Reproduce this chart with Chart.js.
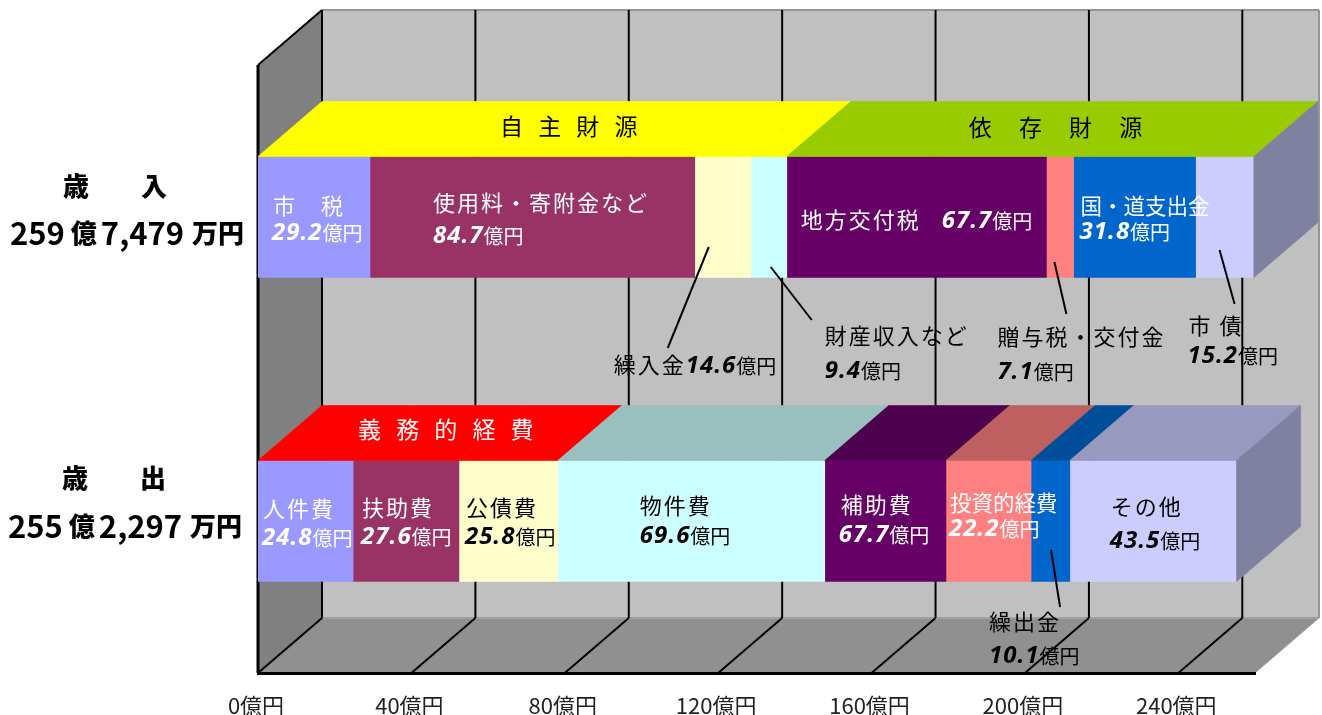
<!DOCTYPE html>
<html lang="ja">
<head>
<meta charset="utf-8">
<title>歳入歳出</title>
<script src="https://cdn.jsdelivr.net/npm/chart.js@4"></script>
<style>
  html, body { margin: 0; padding: 0; background: #fff; overflow: hidden; }
  canvas { display: block; }
</style>
</head>
<body>
<canvas class="budget-chart" width="1322" height="715"></canvas>
<script>
const categories = ["歳入", "歳出"];
const totals = [
  ["259", "7,479"],
  ["255", "2,297"],
];
const xTickValues = [0, 40, 80, 120, 160, 200, 240];

const revenueNames = ["市　税", "使用料・寄附金など", "繰入金", "財産収入など", "地方交付税", "贈与税・交付金", "国・道支出金", "市 債"];
const revenueValues = [29.2, 84.7, 14.6, 9.4, 67.7, 7.1, 31.8, 15.2];

const expenseNames = ["人件費", "扶助費", "公債費", "物件費", "補助費", "投資的経費", "繰出金", "その他"];
const expenseValues = [24.8, 27.6, 25.8, 69.6, 31.6, 22.2, 10.1, 43.5];
// the source prints 67.7 on the 補助費 bar although the bar itself is about 31.6 wide
const expensePrinted = ["24.8", "27.6", "25.8", "69.6", "67.7", "22.2", "10.1", "43.5"];

const revenueGroups = ["自 主 財 源", "依 存 財 源"];
const expenseGroup = "義 務 的 経 費";

const segmentColors = ["#9999ff", "#993366", "#ffffcc", "#ccffff", "#660066", "#ff8080", "#0066cc", "#ccccff"];
const topColors = [
  ["#ffff00", "#ffff00", "#ffff00", "#ffff00", "#99cc00", "#99cc00", "#99cc00", "#99cc00"],
  ["#ff0000", "#ff0000", "#ff0000", "#99bfbf", "#4d004d", "#bf6060", "#004d99", "#9999bf"],
];

const DEPTH_X = 64;
const DEPTH_Y = 55;
const JP = '"Noto Sans CJK JP"';
const NUM = '"Open Sans"';

// label offsets are measured from the start of the segment and the middle of its bar
const segmentLabels = [
  { row: 0, seg: 0, dx: 15, dy: -11, vdx: 14, vdy: 16, color: "#fff" },
  { row: 0, seg: 1, dx: 63, dy: -14, vdx: 63, vdy: 19, color: "#fff" },
  { row: 0, seg: 2, dx: -81, dy: 148, vdx: -9, vdy: 149, color: "#000" },
  { row: 0, seg: 3, dx: 74, dy: 119, vdx: 74, vdy: 154, color: "#000" },
  { row: 0, seg: 4, dx: 14, dy: 3, vdx: 155, vdy: 4, color: "#fff" },
  { row: 0, seg: 5, dx: -49, dy: 120, vdx: -49, vdy: 155, color: "#000" },
  { row: 0, seg: 6, dx: 7, dy: -11, vdx: 6, vdy: 15, color: "#fff" },
  { row: 0, seg: 7, dx: -7, dy: 109, vdx: -8, vdy: 139, color: "#000" },
  { row: 1, seg: 0, dx: 5, dy: -12, vdx: 4, vdy: 17, color: "#fff" },
  { row: 1, seg: 1, dx: 9, dy: -13, vdx: 8, vdy: 16, color: "#fff" },
  { row: 1, seg: 2, dx: 7, dy: -13, vdx: 6, vdy: 16, color: "#000" },
  { row: 1, seg: 3, dx: 82, dy: -15, vdx: 82, vdy: 15, color: "#000" },
  { row: 1, seg: 4, dx: 16, dy: -16, vdx: 14, vdy: 14, color: "#fff" },
  { row: 1, seg: 5, dx: 4, dy: -18, vdx: 3, vdy: 8, color: "#fff" },
  { row: 1, seg: 6, dx: -42, dy: 101, vdx: -42, vdy: 135, color: "#000" },
  { row: 1, seg: 7, dx: 41, dy: -14, vdx: 40, vdy: 20, color: "#000" },
];
const leaders = [
  { row: 0, seg: 2, from: [14, 30], to: [-27, 131] },
  { row: 0, seg: 3, from: [20, 50], to: [61, 103] },
  { row: 0, seg: 5, from: [8, 45], to: [20, 97] },
  { row: 0, seg: 7, from: [24, 33], to: [39, 87] },
  { row: 1, seg: 6, from: [20, 29], to: [29, 86] },
];

function poly(ctx, points, fill) {
  ctx.beginPath();
  points.forEach(([x, y], i) => (i ? ctx.lineTo(x, y) : ctx.moveTo(x, y)));
  ctx.closePath();
  ctx.fillStyle = fill;
  ctx.fill();
  ctx.strokeStyle = fill;
  ctx.lineWidth = 0.6;
  ctx.stroke();
}

function line(ctx, x1, y1, x2, y2, color, width) {
  ctx.beginPath();
  ctx.moveTo(x1, y1);
  ctx.lineTo(x2, y2);
  ctx.strokeStyle = color;
  ctx.lineWidth = width;
  ctx.stroke();
}

function drawRuns(ctx, x, y, runs, color) {
  ctx.fillStyle = color;
  ctx.textAlign = "left";
  ctx.textBaseline = "middle";
  runs.forEach(([text, font, gap, spacing]) => {
    ctx.font = font;
    ctx.letterSpacing = (spacing || 0) + "px";
    ctx.fillText(text, x, y);
    x += ctx.measureText(text).width + (gap || 0);
  });
  ctx.letterSpacing = "0px";
}

function drawName(ctx, text, x, y, color, font, spacing) {
  drawRuns(ctx, x, y, [[text, font, 0, spacing]], color);
}

function barOf(chart, row, seg) {
  return chart.getDatasetMeta(seg).data[row];
}

const roomPlugin = {
  id: "room",
  beforeDatasetsDraw(chart) {
    const { ctx, chartArea: a, scales } = chart;
    ctx.save();
    // back wall, side wall, floor
    poly(ctx, [[a.left + DEPTH_X, a.top - DEPTH_Y], [a.right + DEPTH_X, a.top - DEPTH_Y], [a.right + DEPTH_X, a.bottom - DEPTH_Y], [a.left + DEPTH_X, a.bottom - DEPTH_Y]], "#c0c0c0");
    poly(ctx, [[a.left, a.top], [a.left + DEPTH_X, a.top - DEPTH_Y], [a.left + DEPTH_X, a.bottom - DEPTH_Y], [a.left, a.bottom]], "#808080");
    poly(ctx, [[a.left, a.bottom], [a.right, a.bottom], [a.right + DEPTH_X, a.bottom - DEPTH_Y], [a.left + DEPTH_X, a.bottom - DEPTH_Y]], "#909090");

    line(ctx, a.left + DEPTH_X, a.top - DEPTH_Y, a.right + DEPTH_X, a.top - DEPTH_Y, "#969696", 2);
    line(ctx, a.right + DEPTH_X, a.top - DEPTH_Y, a.right + DEPTH_X, a.bottom - DEPTH_Y, "#969696", 2);
    line(ctx, a.left + DEPTH_X, a.bottom - DEPTH_Y, a.right + DEPTH_X, a.bottom - DEPTH_Y, "#a0a0a0", 2);
    line(ctx, a.left, a.top, a.left, a.bottom, "#000", 3);
    line(ctx, a.left, a.top, a.left + DEPTH_X, a.top - DEPTH_Y, "#000", 2);

    // grid lines bend from the floor up the back wall
    scales.x.ticks.forEach((t) => {
      const x = scales.x.getPixelForValue(t.value);
      line(ctx, x, a.bottom, x + DEPTH_X, a.bottom - DEPTH_Y, "#000", 2);
      line(ctx, x + DEPTH_X, a.bottom - DEPTH_Y, x + DEPTH_X, a.top - DEPTH_Y, "#000", 2);
    });
    ctx.restore();
  },
  afterDatasetsDraw(chart) {
    const { ctx } = chart;
    ctx.save();

    // top and end faces of the two bars
    categories.forEach((_, row) => {
      segmentColors.forEach((_, seg) => {
        const bar = barOf(chart, row, seg);
        const top = bar.y - bar.height / 2;
        const bottom = bar.y + bar.height / 2;
        poly(ctx, [[bar.base, top], [bar.x, top], [bar.x + DEPTH_X, top - DEPTH_Y], [bar.base + DEPTH_X, top - DEPTH_Y]], topColors[row][seg]);
        if (seg === segmentColors.length - 1) {
          poly(ctx, [[bar.x, top], [bar.x + DEPTH_X, top - DEPTH_Y], [bar.x + DEPTH_X, bottom - DEPTH_Y], [bar.x, bottom]], "#8080a0");
        }
      });
    });

    // group captions on the top faces
    const nameFont = `22px ${JP}`;
    const groupFont = `23px ${JP}`;
    const y0 = barOf(chart, 0, 0).y;
    const y1 = barOf(chart, 1, 0).y;
    drawName(ctx, revenueGroups[0], barOf(chart, 0, 0).base + 242, y0 - 91, "#000", groupFont, 5);
    drawName(ctx, revenueGroups[1], barOf(chart, 0, 4).base + 182, y0 - 90, "#000", groupFont, 11);
    drawName(ctx, expenseGroup, barOf(chart, 1, 0).base + 100, y1 - 92, "#fff", groupFont, 5);

    // leaders sit under the text
    leaders.forEach(({ row, seg, from, to }) => {
      const bar = barOf(chart, row, seg);
      line(ctx, bar.base + from[0], bar.y + from[1], bar.base + to[0], bar.y + to[1], "#000", 2);
    });

    segmentLabels.forEach(({ row, seg, dx, dy, vdx, vdy, color }) => {
      const bar = barOf(chart, row, seg);
      const name = row === 0 ? revenueNames[seg] : expenseNames[seg];
      const printed = row === 0 ? revenueValues[seg].toFixed(1) : expensePrinted[seg];
      const tight = name === "投資的経費" || name === "国・道支出金";
      drawName(ctx, name, bar.base + dx, bar.y + dy, color, tight ? `21.5px ${JP}` : nameFont, tight ? 0 : 2);
      drawRuns(ctx, bar.base + vdx, bar.y + vdy, [
        [printed, `italic bold 24px ${NUM}`, 0, 1],
        ["億円", `20px ${JP}`],
      ], color);
    });

    // row captions left of the room
    const capFont = `900 26px ${JP}`;
    const numFont = `bold 31px ${JP}`;
    const captionX = [63, 62];
    const amountX = [10, 8];
    categories.forEach((cat, row) => {
      const y = barOf(chart, row, 0).y;
      const capDy = row === 0 ? -31 : -43;
      const amtDy = row === 0 ? 16 : 5;
      drawRuns(ctx, captionX[row], y + capDy, [[cat[0] + "　　" + cat[1], capFont]], "#000");
      drawRuns(ctx, amountX[row], y + amtDy, [
        [totals[row][0], numFont, 6],
        ["億", capFont, 4],
        [totals[row][1], numFont, 8],
        ["万円", capFont],
      ], "#000");
    });
    ctx.restore();
  },
};

const ctx = document.querySelector(".budget-chart").getContext("2d");
const config = {
  type: "bar",
  data: {
    labels: categories,
    datasets: segmentColors.map((color, i) => ({
      label: revenueNames[i] + " / " + expenseNames[i],
      data: [revenueValues[i], expenseValues[i]],
      backgroundColor: color,
      borderWidth: 0,
      barThickness: 121,
    })),
  },
  options: {
    indexAxis: "y",
    responsive: false,
    animation: false,
    layout: { padding: { top: 65, right: 67, left: 0, bottom: 0 } },
    plugins: {
      legend: { display: false },
      tooltip: { enabled: false },
    },
    scales: {
      x: {
        stacked: true,
        min: 0,
        max: 260,
        afterBuildTicks: (scale) => {
          scale.ticks = xTickValues.map((value) => ({ value }));
        },
        afterFit: (scale) => {
          scale.height = 42;
        },
        grid: { display: false },
        border: { color: "#000", width: 3, z: 1 },
        ticks: {
          callback: (value) => value + "億円",
          autoSkip: false,
          maxRotation: 0,
          padding: 11,
          labelOffset: -2,
          color: "#222",
          font: { family: JP, size: 22 },
        },
      },
      y: {
        stacked: true,
        afterFit: (scale) => {
          scale.width = 258;
        },
        grid: { display: false },
        border: { display: false },
        ticks: { display: false },
      },
    },
  },
  plugins: [roomPlugin],
};
const chartRender = new Chart(ctx, config);
</script>
</body>
</html>
